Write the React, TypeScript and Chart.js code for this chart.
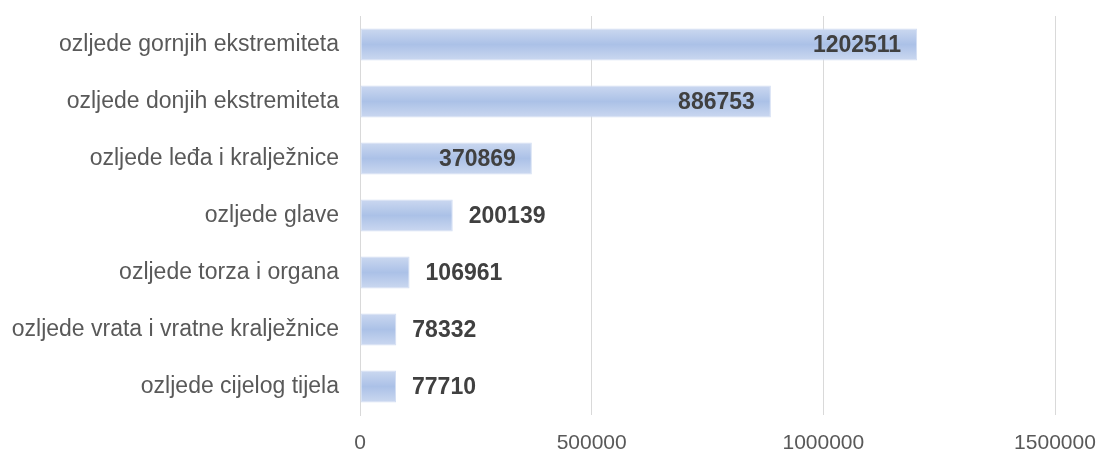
import { useEffect, useRef } from 'react';
import { Chart, registerables } from 'chart.js';

Chart.register(...registerables);

const categories = [
  'ozljede gornjih ekstremiteta',
  'ozljede donjih ekstremiteta',
  'ozljede leđa i kralježnice',
  'ozljede glave',
  'ozljede torza i organa',
  'ozljede vrata i vratne kralježnice',
  'ozljede cijelog tijela',
];
const values = [1202511, 886753, 370869, 200139, 106961, 78332, 77710];
const xTickValues = [0, 500000, 1000000, 1500000];

const FONT = '"Liberation Sans", Arial, sans-serif';

const valueLabels = {
  id: 'valueLabels',
  afterDatasetsDraw(chart: any) {
    const ctx = chart.ctx;
    const meta = chart.getDatasetMeta(0);
    ctx.save();
    ctx.font = `bold 23px ${FONT}`;
    ctx.fillStyle = '#404040';
    ctx.textBaseline = 'middle';
    meta.data.forEach((el: any, i: number) => {
      const v = values[i];
      const inside = v > 300000;
      const text = String(v);
      if (inside) {
        ctx.textAlign = 'right';
        ctx.fillText(text, el.x - 16, el.y + 1);
      } else {
        ctx.textAlign = 'left';
        ctx.fillText(text, el.x + 16, el.y + 1);
      }
    });
    ctx.restore();
  },
};

export default function App() {
  const ref = useRef<HTMLCanvasElement>(null);
  useEffect(() => {
    if (!ref.current) return;
    const BAR_PCT = 0.56;
    const chart = new Chart(ref.current, {
      type: 'bar',
      data: {
        labels: categories,
        datasets: [
          {
            data: values,
            backgroundColor: (c: any) => {
              const ch = c.chart;
              const ys = ch.scales?.y;
              if (!ys || !ch.chartArea) return '#b4c7e7';
              const y = ys.getPixelForValue(c.dataIndex);
              const h = (ys.height / categories.length) * BAR_PCT / 2;
              const g = ch.ctx.createLinearGradient(0, y - h, 0, y + h);
              g.addColorStop(0, '#cbd8f0');
              g.addColorStop(0.5, '#abc1e7');
              g.addColorStop(1, '#cbd8f0');
              return g;
            },
            borderColor: '#d3def3',
            borderWidth: 1,
            borderSkipped: false,
            categoryPercentage: 1,
            barPercentage: BAR_PCT,
          },
        ],
      },
      options: {
        indexAxis: 'y',
        animation: false,
        responsive: true,
        maintainAspectRatio: false,
        layout: { padding: { top: 16, right: 44, bottom: 0, left: 0 } },
        plugins: { legend: { display: false }, tooltip: { enabled: false } },
        scales: {
          x: {
            min: 0,
            max: 1500000,
            afterBuildTicks: (s: any) => {
              s.ticks = xTickValues.map((v) => ({ value: v }));
            },
            afterFit: (s: any) => {
              s.height = 38;
              s.paddingLeft = 0;
              s.paddingRight = 0;
            },
            grid: { color: '#d9d9d9', drawTicks: false, lineWidth: 1 },
            border: { display: false },
            ticks: {
              padding: 16,
              color: '#595959',
              font: { family: FONT, size: 21 },
              callback: (v: any) => String(v),
            },
          },
          y: {
            afterFit: (s: any) => {
              s.width = 360;
              s.paddingTop = 0;
              s.paddingBottom = 0;
            },
            grid: { display: false, drawTicks: false },
            border: { display: true, color: '#d9d9d9', width: 1 },
            ticks: {
              padding: 21,
              color: '#595959',
              font: { family: FONT, size: 23 },
            },
          },
        },
      },
      plugins: [valueLabels],
    });
    return () => chart.destroy();
  }, []);
  return (
    <div style={{ position: 'fixed', left: 0, top: 0, width: 1099, height: 453 }}>
      <canvas ref={ref} />
    </div>
  );
}
